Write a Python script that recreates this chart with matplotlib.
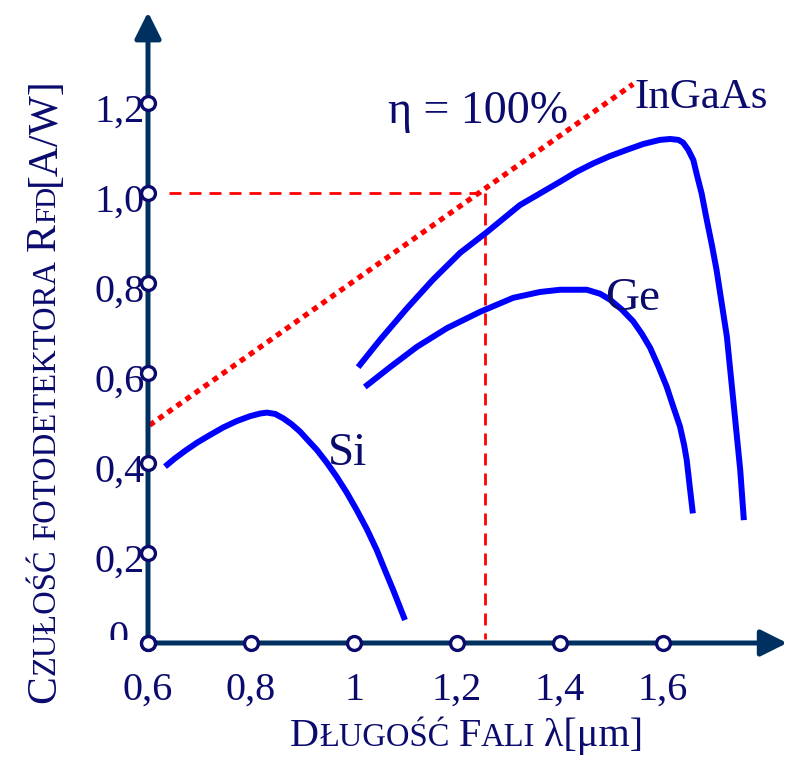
import matplotlib
matplotlib.use("Agg")
import matplotlib.pyplot as plt
from matplotlib.transforms import IdentityTransform, Bbox, TransformedBbox

# --- data ---
si_x = [0.633, 0.652, 0.672, 0.695, 0.720, 0.746, 0.772, 0.798, 0.818, 0.831,
        0.847, 0.863, 0.879, 0.895, 0.911, 0.928, 0.947, 0.966, 0.986, 1.005,
        1.025, 1.044, 1.060, 1.076, 1.099]
si_y = [0.392, 0.410, 0.427, 0.445, 0.462, 0.479, 0.493, 0.504, 0.510, 0.512,
        0.509, 0.499, 0.486, 0.470, 0.450, 0.429, 0.401, 0.370, 0.334, 0.296,
        0.253, 0.207, 0.162, 0.118, 0.051]

ingaas_x = [1.008, 1.050, 1.103, 1.153, 1.206, 1.258, 1.322, 1.400, 1.432, 1.465,
            1.497, 1.530, 1.562, 1.594, 1.614, 1.630, 1.639, 1.649, 1.659, 1.665,
            1.675, 1.685, 1.695, 1.704, 1.714, 1.724, 1.737, 1.750, 1.757]
ingaas_y = [0.613, 0.673, 0.744, 0.807, 0.867, 0.913, 0.973, 1.025, 1.047, 1.066,
            1.082, 1.096, 1.109, 1.118, 1.120, 1.118, 1.112, 1.096, 1.073, 1.044,
            0.999, 0.940, 0.884, 0.829, 0.755, 0.681, 0.533, 0.384, 0.273]

ge_x = [1.021, 1.070, 1.122, 1.181, 1.245, 1.309, 1.361, 1.400, 1.452, 1.478,
        1.497, 1.520, 1.542, 1.559, 1.575, 1.591, 1.607, 1.620, 1.633, 1.641,
        1.646, 1.652, 1.658]
ge_y = [0.569, 0.613, 0.658, 0.700, 0.736, 0.767, 0.780, 0.785, 0.785, 0.776,
        0.763, 0.741, 0.715, 0.687, 0.656, 0.615, 0.570, 0.525, 0.481, 0.440,
        0.407, 0.347, 0.288]

ideal_x = [0.603, 1.542]      # eta = 100 %
ideal_y = [0.484, 1.242]

ref_x = 1.254                 # dashed guide lines
ref_y = 1.0
ref_start = 0.64

x_ticks = [0.6, 0.8, 1.0, 1.2, 1.4, 1.6]
x_labels = ["0,6", "0,8", "1", "1,2", "1,4", "1,6"]
y_ticks = [0.0, 0.2, 0.4, 0.6, 0.8, 1.0, 1.2]
y_labels = ["0", "0,2", "0,4", "0,6", "0,8", "1,0", "1,2"]

navy = "#0b0b6e"
axis_col = "#003060"
blue = "#0000ff"
red = "#ff0000"
plt.rcParams["font.family"] = ["Liberation Serif", "DejaVu Serif"]

fig = plt.figure(figsize=(7.95, 7.6), dpi=100)
ax = fig.add_axes([0, 0, 1, 1])
ax.set_xlim(0.6 - 148 / 515, 0.6 + 647 / 515)
ax.set_ylim((643 - 760) / 450, 643 / 450)
ax.axis("off")

# guide lines
ax.plot([ref_start, ref_x], [ref_y, ref_y], color=red, lw=2.0,
        dashes=(4.3, 2.9), zorder=2)
ax.plot([ref_x, ref_x], [ref_y, 0.01], color=red, lw=2.0,
        dashes=(4.3, 2.9), zorder=2)
ax.plot(ideal_x, ideal_y, color=red, lw=3.8, dashes=(1.1, 1.0),
        dash_capstyle="butt", zorder=2)

# curves
for xs, ys in [(si_x, si_y), (ingaas_x, ingaas_y), (ge_x, ge_y)]:
    ax.plot(xs, ys, color=blue, lw=4.3, solid_capstyle="butt",
            solid_joinstyle="round", zorder=3)

# axes with arrows
arrow = dict(arrowstyle="-|>,head_length=1.6,head_width=0.8", color=axis_col,
             lw=3.6, shrinkA=0, shrinkB=0)
ax.annotate("", xy=(1.841, 0), xytext=(0.6, 0), arrowprops=arrow, zorder=4)
ax.annotate("", xy=(0.6, 1.402), xytext=(0.6, 0), arrowprops=arrow, zorder=4)

# tick circles
ax.plot(x_ticks, [0] * len(x_ticks), "o", ms=10, mfc="white", mec=navy,
        mew=2.4, zorder=5)
ax.plot([0.6] * len(y_ticks), y_ticks, "o", ms=10, mfc="white", mec=navy,
        mew=2.4, zorder=5)

for x, lab in zip(x_ticks, x_labels):
    ax.text(x, -0.126, lab, fontsize=29, color=navy, ha="center", va="baseline")
for y, lab in zip(y_ticks, y_labels):
    t = ax.text(0.6 - 3 / 515, y - 0.042, lab, fontsize=29, color=navy,
                ha="right", va="baseline", zorder=1)
    if y == 0:
        # the "0" is cut off by the x axis in the original
        t.set_position((0.6 - 29 / 515, y - 0.01))
        t.set_ha("center")
        t.set_clip_box(TransformedBbox(Bbox([[0.3, 0.006], [0.6, 0.2]]),
                                       ax.transData))
        t.set_clip_on(True)

# curve labels
ax.text(0.987, 0.42, "Si", fontsize=34, color=navy, ha="center", va="center")
ax.text(1.541, 0.765, "Ge", fontsize=34, color=navy, ha="center", va="center")
ax.text(1.545, 1.19, "InGaAs", fontsize=31, color=navy, ha="left", va="baseline")
ax.text(1.24, 1.155, "η = 100%", fontsize=33, color=navy, ha="center",
        va="baseline")

# small-caps axis titles
renderer = fig.canvas.get_renderer()


def small_caps(x, y, parts, rotation=0):
    for s, size in parts:
        if s == " ":
            step = size
        else:
            t = fig.text(x, y, s, fontsize=size, color=navy, rotation=rotation,
                         rotation_mode="anchor", ha="left", va="baseline",
                         transform=IdentityTransform())
            bb = t.get_window_extent(renderer)
            step = bb.height if rotation else bb.width
        if rotation:
            y += step
        else:
            x += step


small_caps(290, 14, [("D", 29), ("ŁUGOŚĆ", 23.5), (" ", 9), ("F", 29),
                     ("ALI", 23.5), (" ", 9), ("λ[μm]", 29)])
small_caps(55, 57, [("C", 30), ("ZUŁOŚĆ", 23.5), (" ", 9),
                    ("FOTODETEKTORA", 23.5), (" ", 9), ("R", 30), ("FD", 21),
                    ("[A/W]", 30)], rotation=90)

fig.savefig("out.png", dpi=100)
